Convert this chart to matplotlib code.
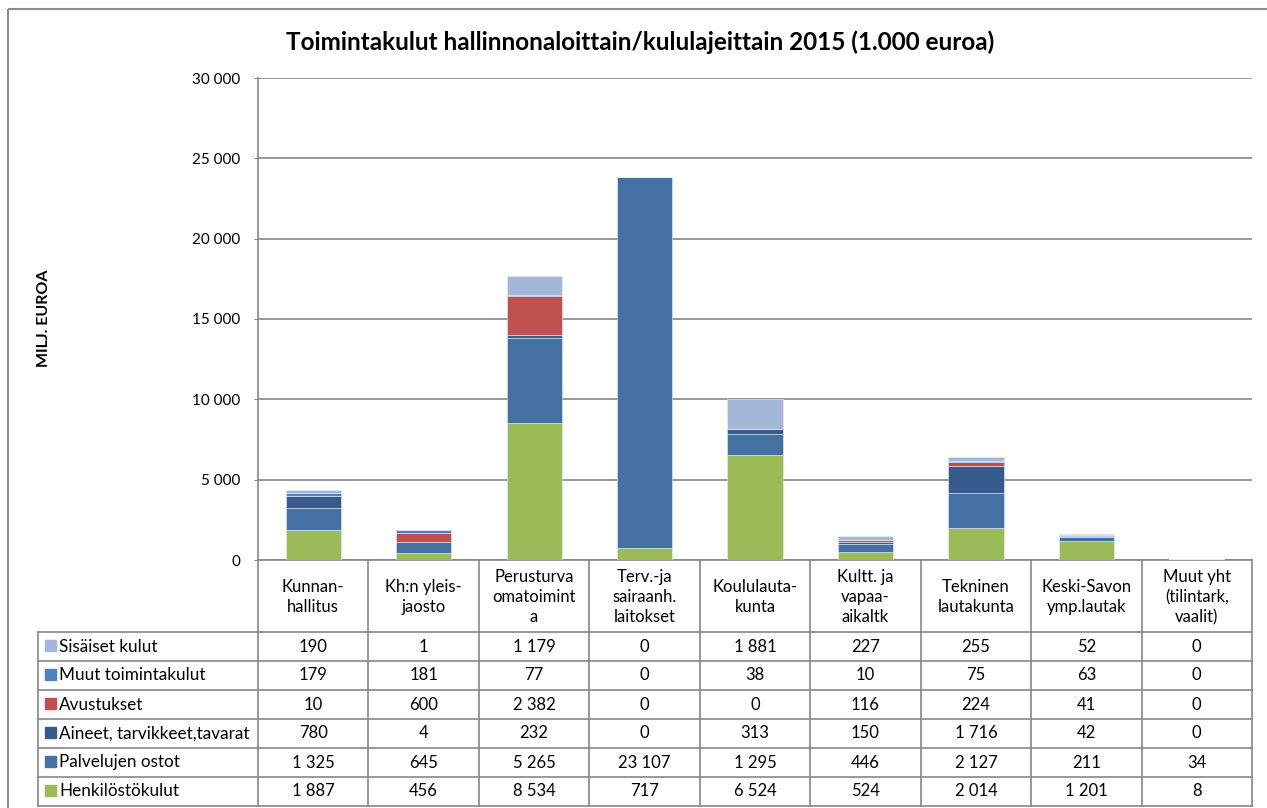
import matplotlib.pyplot as plt
from matplotlib.patches import Rectangle

# data (1.000 euroa)
categories = ["Kunnan-\nhallitus", "Kh:n yleis-\njaosto", "Perusturva\nomatoimint\na",
              "Terv.-ja\nsairaanh.\nlaitokset", "Koululauta-\nkunta", "Kultt. ja\nvapaa-\naikaltk",
              "Tekninen\nlautakunta", "Keski-Savon\nymp.lautak", "Muut yht\n(tilintark,\nvaalit)"]
henkilosto = [1887, 456, 8534, 717, 6524, 524, 2014, 1201, 8]
palvelut = [1325, 645, 5265, 23107, 1295, 446, 2127, 211, 34]
aineet = [780, 4, 232, 0, 313, 150, 1716, 42, 0]
avustukset = [10, 600, 2382, 0, 0, 116, 224, 41, 0]
muut = [179, 181, 77, 0, 38, 10, 75, 63, 0]
sisaiset = [190, 1, 1179, 0, 1881, 227, 255, 52, 0]

# bottom to top
series = [
    ("Henkilöstökulut", henkilosto, "#9BBB59"),
    ("Palvelujen ostot", palvelut, "#4470A4"),
    ("Aineet, tarvikkeet,tavarat", aineet, "#355C8C"),
    ("Avustukset", avustukset, "#C0504D"),
    ("Muut toimintakulut", muut, "#4F81BD"),
    ("Sisäiset kulut", sisaiset, "#A4B7D8"),
]

plt.rcParams['font.family'] = ['Lato', 'DejaVu Sans']
W, H = 1267, 808
fig = plt.figure(figsize=(W / 100, H / 100), dpi=100)
grid_c = "#868686"

# plot area in pixels
px_l, px_r, px_t, px_b = 258, 1252, 78, 560
ax = fig.add_axes([px_l / W, 1 - px_b / H, (px_r - px_l) / W, (px_b - px_t) / H])
ax.set_facecolor("none")

n = len(categories)
x = list(range(n))
bottom = [0] * n
for name, vals, col in series:
    ax.bar(x, vals, width=0.5, bottom=bottom, color=col, edgecolor="#E8EEF6", linewidth=0.4, zorder=3)
    bottom = [b + v for b, v in zip(bottom, vals)]

ax.set_xlim(-0.5, n - 0.5)
ax.set_ylim(0, 30000)
ax.set_yticks(range(0, 30001, 5000))
ax.set_yticklabels([f"{t:,}".replace(",", " ") for t in range(0, 30001, 5000)], fontsize=11)
ax.yaxis.grid(True, color=grid_c, linewidth=1.2)
ax.set_axisbelow(True)
ax.set_xticks([])
ax.tick_params(axis="y", length=3, color=grid_c, pad=10)
for s in ["top", "right", "bottom"]:
    ax.spines[s].set_visible(False)
ax.spines["left"].set_color(grid_c)
ax.spines["left"].set_linewidth(1.2)

# overlay for frame, title and data table
ov = fig.add_axes([0, 0, 1, 1], zorder=-1)
ov.set_xlim(0, W)
ov.set_ylim(H, 0)
ov.axis("off")
ov.add_patch(Rectangle((8, 9), W + 20, H + 20, fill=False, edgecolor="#8C8C8C", linewidth=1.5))

fig.text(640 / W, 1 - 42 / H, "Toimintakulut hallinnonaloittain/kululajeittain 2015 (1.000 euroa)",
         ha="center", va="center", fontsize=17.5, fontweight="bold")
fig.text(44 / W, 1 - 318 / H, "MILJ. EUROA", rotation=90, ha="center", va="center",
         fontsize=11.5, fontweight="bold")

col_w = (px_r - px_l) / n
edges = [px_l + i * col_w for i in range(n + 1)]
hdr_b = 632
row_h = 29
tab_l = 38
rows = series[::-1]
row_y = [hdr_b + i * row_h for i in range(len(rows) + 1)]

ov.plot([px_l, px_r], [px_b, px_b], color=grid_c, lw=1.2)
for e in edges:
    ov.plot([e, e], [px_b, row_y[-1]], color=grid_c, lw=1.2)
for yy in row_y:
    ov.plot([tab_l, px_r], [yy, yy], color=grid_c, lw=1.2)
ov.plot([tab_l, tab_l], [hdr_b, row_y[-1]], color=grid_c, lw=1.2)

for i, cat in enumerate(categories):
    ov.text((edges[i] + edges[i + 1]) / 2, (px_b + hdr_b) / 2 + 1, cat, ha="center", va="center",
            fontsize=12, linespacing=1.3)

for r, (name, vals, col) in enumerate(rows):
    yc = (row_y[r] + row_y[r + 1]) / 2
    ov.add_patch(Rectangle((45, yc - 7), 11, 11, color=col))
    ov.text(59, yc, name, ha="left", va="center", fontsize=12.3)
    for i, v in enumerate(vals):
        ov.text((edges[i] + edges[i + 1]) / 2, yc, f"{v:,}".replace(",", " "),
                ha="center", va="center", fontsize=12)

fig.savefig("out.png", dpi=100)
